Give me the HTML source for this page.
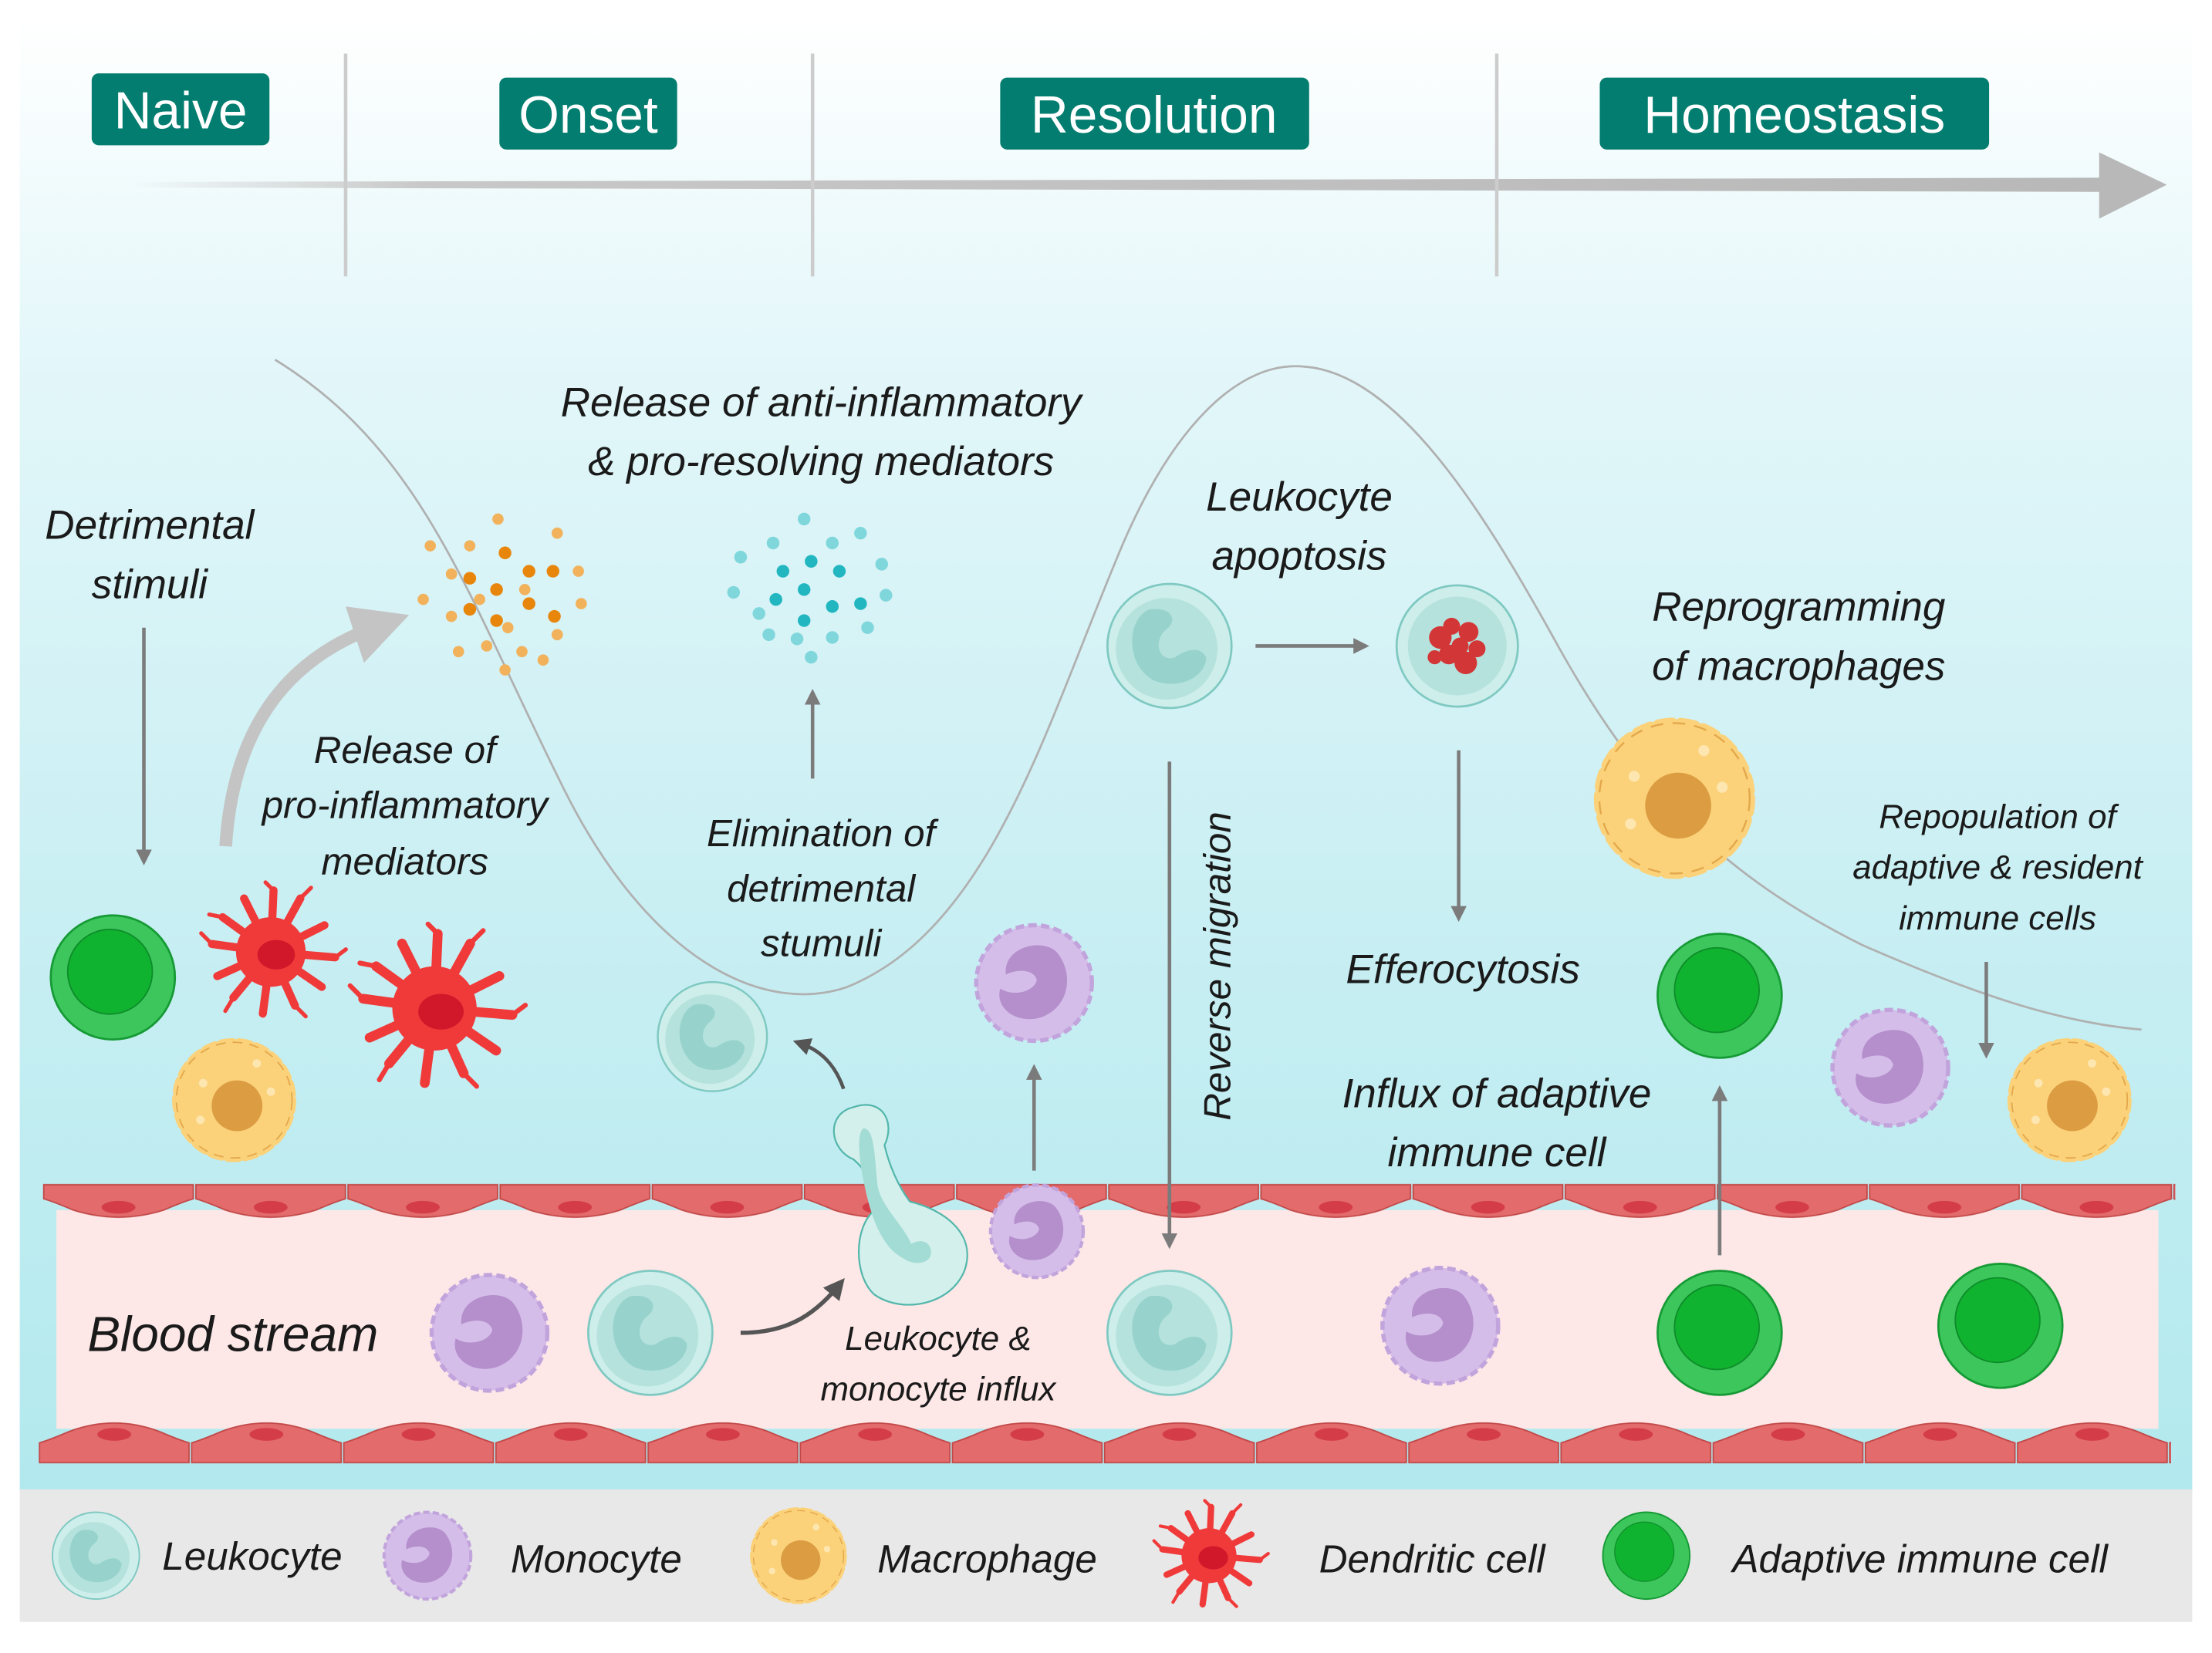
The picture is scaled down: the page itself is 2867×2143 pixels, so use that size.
<!DOCTYPE html>
<html><head><meta charset="utf-8"><style>
html,body{margin:0;padding:0;background:#fff}
svg{display:block}
text{font-family:"Liberation Sans",sans-serif}
.it{font-style:italic;fill:#1a1a1a}
.hd{fill:#fff;font-size:37px;text-anchor:middle}
</style></head><body>
<svg width="2867" height="2143" viewBox="0 0 1568 1172" xmlns="http://www.w3.org/2000/svg">
<defs>
<linearGradient id="bg" x1="0" y1="0" x2="0" y2="1">
<stop offset="0" stop-color="#ffffff"/><stop offset="0.22" stop-color="#e4f7fa"/><stop offset="0.6" stop-color="#c9eff3"/><stop offset="1" stop-color="#b2e9ee"/>
</linearGradient>
<linearGradient id="tl" x1="0" y1="0" x2="1" y2="0">
<stop offset="0" stop-color="#c8c8c8" stop-opacity="0"/><stop offset="0.15" stop-color="#c8c8c8"/><stop offset="1" stop-color="#b8b8b8"/>
</linearGradient>
<pattern id="endoT" x="30" y="838" width="107.86" height="26" patternUnits="userSpaceOnUse">
<path d="M1,2 L107,2 L107,12 Q100,14 86,20 Q54,30 22,20 Q8,14 1,12 Z" fill="#e36b6b" stroke="#c24848" stroke-width="1"/>
<ellipse cx="54" cy="18" rx="12" ry="4.5" fill="#d43d47"/>
</pattern>
<pattern id="endoB" x="27" y="1005" width="107.86" height="34" patternUnits="userSpaceOnUse">
<path d="M1,32 L107,32 L107,18 Q100,16 86,10 Q54,-2 22,10 Q8,16 1,18 Z" fill="#e36b6b" stroke="#c24848" stroke-width="1"/>
<ellipse cx="54" cy="12" rx="12" ry="4.5" fill="#d43d47"/>
</pattern>
<g id="leu">
<circle r="44" fill="#cdeeea" stroke="#7fc9c2" stroke-width="1.5"/>
<circle r="36" cx="-2" cy="2" fill="#b5e2dd"/>
<path d="M-14,-26 C-30,-20 -32,12 -12,24 C6,32 26,22 26,8 C22,0 12,2 4,8 C-8,12 -12,-4 -2,-12 C6,-18 2,-28 -14,-26Z" fill="#97d3cc"/>
</g>
<g id="mono">
<circle r="41" fill="#d5bde9" stroke="#c2a4dc" stroke-width="3" stroke-dasharray="6 3"/>
<circle r="39" fill="#d5bde9"/>
<path d="M-20,-4 C-22,-24 6,-30 16,-20 C28,-6 26,18 6,26 C-12,32 -28,20 -24,6 C-14,12 0,8 2,0 C0,-8 -12,-8 -20,-4Z" fill="#b48fcc" transform="translate(0,-2)"/>
</g>
<g id="mac">
<circle r="40" fill="#fbd27a" stroke="#fbd27a" stroke-width="8" stroke-dasharray="7 5" stroke-linecap="round"/>
<circle r="41" fill="none" stroke="#e3a84c" stroke-width="1" stroke-dasharray="7 5"/>
<circle r="37" fill="#fbd27a"/>
<circle r="18" cx="2" cy="4" fill="#dc9c42"/>
<circle r="3" cx="-22" cy="-12" fill="#fde6b0"/><circle r="3" cx="16" cy="-26" fill="#fde6b0"/><circle r="3" cx="26" cy="-6" fill="#fde6b0"/><circle r="3" cx="-24" cy="14" fill="#fde6b0"/>
</g>
<g id="dc" stroke="#f03a3a" stroke-linecap="round" fill="none">
<path d="M0,0 L-44,-6 M0,0 L-40,18 M0,0 L-28,34 M0,0 L-6,46 M0,0 L18,40 M0,0 L38,26 M0,0 L48,4 M0,0 L40,-20 M0,0 L22,-40 M0,0 L2,-46 M0,0 L-20,-40 M0,0 L-36,-26" stroke-width="6"/>
<path d="M-44,-6 L-52,-14 M-28,34 L-34,44 M18,40 L26,48 M48,4 L56,-2 M22,-40 L30,-48 M2,-46 L-4,-52 M-36,-26 L-46,-28" stroke-width="3"/>
<circle r="26" fill="#f03a3a" stroke="none"/>
<ellipse cx="4" cy="2" rx="14" ry="11" fill="#d0182a" stroke="none"/>
</g>
<g id="adp">
<circle r="44" fill="#3cc65c" stroke="#169a35" stroke-width="1.5"/>
<circle r="30" cx="-2" cy="-4" fill="#10b32f" stroke="#0e8c2a" stroke-width="1"/>
</g>
<marker id="ah" viewBox="0 0 10 10" refX="5" refY="5" markerWidth="4.5" markerHeight="4.5" orient="auto"><path d="M0,0 L10,5 L0,10 Z" fill="#7b7b7b"/></marker>
<marker id="ahd" viewBox="0 0 10 10" refX="5" refY="5" markerWidth="5" markerHeight="5" orient="auto"><path d="M0,0 L10,5 L0,10 Z" fill="#555"/></marker>
</defs>

<rect x="14" y="14" width="1540" height="1044" fill="url(#bg)"/>
<rect x="14" y="1056" width="1540" height="94" fill="#e8e8e8"/>

<path d="M90,129 L1490,126 L1490,136 L90,133 Z" fill="url(#tl)"/>
<path d="M1488,108 L1536,131 L1488,155 Z" fill="#b8b8b8"/>
<g stroke="#cccccc" stroke-width="2.5">
<line x1="245" y1="38" x2="245" y2="196"/><line x1="576" y1="38" x2="576" y2="196"/><line x1="1061" y1="38" x2="1061" y2="196"/>
</g>
<g>
<rect x="65" y="52" width="126" height="51" rx="5" fill="#037d6f"/><text x="128" y="91" class="hd">Naive</text>
<rect x="354" y="55" width="126" height="51" rx="5" fill="#037d6f"/><text x="417" y="94" class="hd">Onset</text>
<rect x="709" y="55" width="219" height="51" rx="5" fill="#037d6f"/><text x="818" y="94" class="hd">Resolution</text>
<rect x="1134" y="55" width="276" height="51" rx="5" fill="#037d6f"/><text x="1272" y="94" class="hd">Homeostasis</text>
</g>

<path d="M195,255 C300,320 330,420 400,560 C460,680 540,720 600,700 C700,660 740,520 790,400 C830,300 880,255 925,260 C990,265 1050,360 1100,450 C1160,560 1220,620 1320,670 C1400,705 1460,725 1518,730" fill="none" stroke="#b0b0b0" stroke-width="1.5"/>

<rect x="40" y="858" width="1490" height="155" fill="#fde7e7"/>
<rect x="30" y="838" width="1512" height="26" fill="url(#endoT)"/>
<rect x="27" y="1005" width="1512" height="34" fill="url(#endoB)"/>

<g fill="#f2b25c">
<circle cx="353" cy="368" r="4"/><circle cx="333" cy="387" r="4"/><circle cx="395" cy="378" r="4"/><circle cx="305" cy="387" r="4"/><circle cx="320" cy="407" r="4"/><circle cx="300" cy="425" r="4"/><circle cx="320" cy="437" r="4"/><circle cx="340" cy="425" r="4"/><circle cx="360" cy="445" r="4"/><circle cx="410" cy="405" r="4"/><circle cx="412" cy="428" r="4"/><circle cx="395" cy="450" r="4"/><circle cx="370" cy="462" r="4"/><circle cx="385" cy="468" r="4"/><circle cx="345" cy="458" r="4"/><circle cx="325" cy="462" r="4"/><circle cx="358" cy="475" r="4"/><circle cx="372" cy="418" r="4"/>
</g>
<g fill="#e8860c">
<circle cx="358" cy="392" r="4.5"/><circle cx="375" cy="405" r="4.5"/><circle cx="333" cy="410" r="4.5"/><circle cx="352" cy="418" r="4.5"/><circle cx="375" cy="428" r="4.5"/><circle cx="393" cy="437" r="4.5"/><circle cx="352" cy="440" r="4.5"/><circle cx="333" cy="432" r="4.5"/><circle cx="392" cy="405" r="4.5"/>
</g>
<g fill="#7fd7dc">
<circle cx="570" cy="368" r="4.5"/><circle cx="548" cy="385" r="4.5"/><circle cx="590" cy="385" r="4.5"/><circle cx="610" cy="378" r="4.5"/><circle cx="525" cy="395" r="4.5"/><circle cx="520" cy="420" r="4.5"/><circle cx="538" cy="435" r="4.5"/><circle cx="625" cy="400" r="4.5"/><circle cx="628" cy="422" r="4.5"/><circle cx="615" cy="445" r="4.5"/><circle cx="590" cy="452" r="4.5"/><circle cx="565" cy="453" r="4.5"/><circle cx="545" cy="450" r="4.5"/><circle cx="575" cy="466" r="4.5"/>
</g>
<g fill="#22b7c0">
<circle cx="555" cy="405" r="4.5"/><circle cx="575" cy="398" r="4.5"/><circle cx="595" cy="405" r="4.5"/><circle cx="610" cy="428" r="4.5"/><circle cx="570" cy="418" r="4.5"/><circle cx="550" cy="425" r="4.5"/><circle cx="590" cy="430" r="4.5"/><circle cx="570" cy="440" r="4.5"/>
</g>

<g stroke="#7b7b7b" stroke-width="2.5" fill="none" marker-end="url(#ah)">
<line x1="102" y1="445" x2="102" y2="608"/>
<line x1="576" y1="552" x2="576" y2="494"/>
<line x1="890" y1="458" x2="965" y2="458"/>
<line x1="1034" y1="532" x2="1034" y2="648"/>
<line x1="829" y1="540" x2="829" y2="880"/>
<line x1="733" y1="830" x2="733" y2="760"/>
<line x1="1219" y1="890" x2="1219" y2="775"/>
<line x1="1408" y1="682" x2="1408" y2="745"/>
</g>
<path d="M160,600 C165,520 200,470 262,446" fill="none" stroke="#c4c4c4" stroke-width="9"/>
<path d="M245,430 L290,436 L258,470 Z" fill="#c4c4c4"/>
<path d="M598,772 C592,755 582,745 568,740" fill="none" stroke="#555" stroke-width="2.5" marker-end="url(#ahd)"/>
<path d="M525,945 C555,945 575,935 594,912" fill="none" stroke="#555" stroke-width="3" marker-end="url(#ahd)"/>

<use href="#adp" x="80" y="693"/>
<use href="#dc" transform="translate(192,675) scale(0.95)"/>
<use href="#dc" transform="translate(308,715) scale(1.15)"/>
<use href="#mac" x="166" y="780"/>
<use href="#leu" transform="translate(505,735) scale(0.88)"/>
<use href="#mono" x="733" y="697"/>
<use href="#leu" x="829" y="458"/>
<g transform="translate(1033,458)">
<circle r="43" fill="#cdeeea" stroke="#7fc9c2" stroke-width="1.5"/><circle r="35" fill="#b5e2dd"/>
<g fill="#d33636"><circle cx="-12" cy="-6" r="8"/><circle cx="-4" cy="-14" r="6"/><circle cx="8" cy="-10" r="7"/><circle cx="14" cy="2" r="6"/><circle cx="6" cy="12" r="8"/><circle cx="-6" cy="6" r="7"/><circle cx="-16" cy="8" r="5"/><circle cx="2" cy="0" r="6"/></g>
</g>
<g transform="translate(1187,566) scale(1.3)"><use href="#mac"/></g>
<use href="#adp" x="1219" y="706"/>
<use href="#mono" x="1340" y="757"/>
<use href="#mac" x="1467" y="780"/>

<use href="#mono" x="347" y="945"/>
<use href="#leu" x="461" y="945"/>
<use href="#mono" transform="translate(735,873) scale(0.8)"/>
<g>
<path d="M605,785 C585,790 588,815 605,822 C620,835 618,845 620,858 C605,870 605,905 620,918 C640,932 675,925 684,900 C692,875 670,858 645,852 C636,840 630,825 627,812 C635,795 625,778 605,785Z" fill="#d4f0ec" stroke="#52b6ab" stroke-width="1.2"/>
<path d="M612,800 C620,800 620,820 622,840 C624,855 640,868 646,882 C652,878 660,880 660,888 C660,896 648,898 640,892 C628,886 620,870 615,850 C610,830 606,805 612,800Z" fill="#a3dcd5"/>
</g>
<use href="#leu" x="829" y="945"/>
<use href="#mono" x="1021" y="940"/>
<use href="#adp" x="1219" y="945"/>
<use href="#adp" x="1418" y="940"/>

<use href="#leu" transform="translate(68,1103) scale(0.7)"/>
<use href="#mono" transform="translate(303,1103) scale(0.75)"/>
<use href="#mac" transform="translate(566,1103) scale(0.78)"/>
<use href="#dc" transform="translate(857,1103) scale(0.75)"/>
<use href="#adp" transform="translate(1167,1103) scale(0.7)"/>
<g class="it" font-size="28">
<text x="115" y="1113">Leukocyte</text>
<text x="362" y="1115">Monocyte</text>
<text x="622" y="1115">Macrophage</text>
<text x="935" y="1115">Dendritic cell</text>
<text x="1228" y="1115">Adaptive immune cell</text>
</g>

<g class="it" font-size="29" text-anchor="middle">
<text x="106" y="382">Detrimental</text><text x="106" y="424">stimuli</text>
<text x="582" y="295">Release of anti-inflammatory</text><text x="582" y="337">&amp; pro-resolving mediators</text>
<text x="921" y="362">Leukocyte</text><text x="921" y="404">apoptosis</text>
<text x="1275" y="440">Reprogramming</text><text x="1275" y="482">of macrophages</text>
<text x="1037" y="697">Efferocytosis</text>
<text x="1061" y="785">Influx of adaptive</text><text x="1061" y="827">immune cell</text>
</g>
<g class="it" font-size="27" text-anchor="middle">
<text x="287" y="541">Release of</text><text x="287" y="580">pro-inflammatory</text><text x="287" y="620">mediators</text>
<text x="582" y="600">Elimination of</text><text x="582" y="639">detrimental</text><text x="582" y="678">stumuli</text>
<text transform="translate(872,685) rotate(-90)">Reverse migration</text>
</g>
<g class="it" font-size="24" text-anchor="middle">
<text x="1416" y="587">Repopulation of</text><text x="1416" y="623">adaptive &amp; resident</text><text x="1416" y="659">immune cells</text>
<text x="665" y="957">Leukocyte &amp;</text><text x="665" y="993">monocyte influx</text>
</g>
<text x="62" y="958" class="it" font-size="35">Blood stream</text>
</svg>
</body></html>
